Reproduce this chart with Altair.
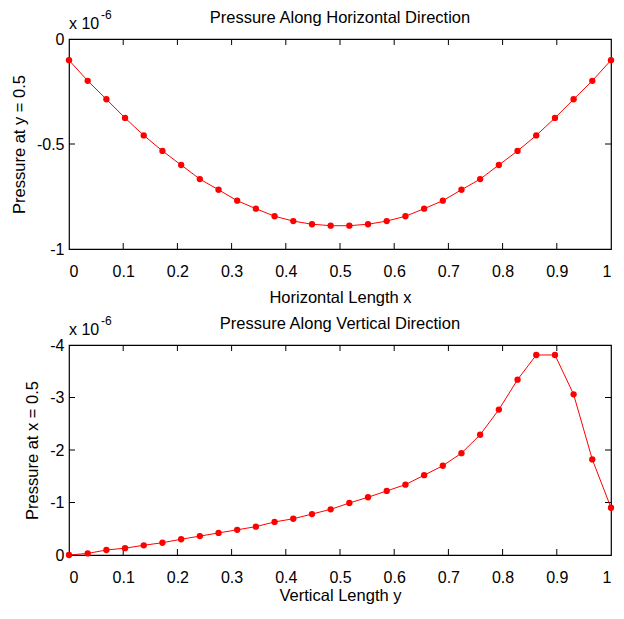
import altair as alt
import pandas as pd

# ---------------- data ----------------
x_pos = [0.0, 0.0345, 0.069, 0.1034, 0.1379, 0.1724, 0.2069, 0.2414, 0.2759, 0.3103,
         0.3448, 0.3793, 0.4138, 0.4483, 0.4828, 0.5172, 0.5517, 0.5862, 0.6207, 0.6552,
         0.6897, 0.7241, 0.7586, 0.7931, 0.8276, 0.8621, 0.8966, 0.931, 0.9655, 1.0]

p_horizontal = [-0.101, -0.199, -0.287, -0.376, -0.459, -0.533, -0.600, -0.667, -0.718, -0.770,
                -0.808, -0.844, -0.867, -0.882, -0.889, -0.889, -0.882, -0.867, -0.844, -0.808,
                -0.770, -0.718, -0.667, -0.600, -0.533, -0.459, -0.376, -0.287, -0.199, -0.101]

p_vertical = [0.0, -0.03, -0.095, -0.13, -0.185, -0.234, -0.30, -0.36, -0.42, -0.48,
              -0.54, -0.63, -0.69, -0.78, -0.87, -0.99, -1.10, -1.22, -1.34, -1.52,
              -1.70, -1.94, -2.29, -2.77, -3.34, -3.81, -3.81, -3.06, -1.82, -0.90]

x_ticks = [0, 0.1, 0.2, 0.3, 0.4, 0.5, 0.6, 0.7, 0.8, 0.9, 1]
x_inner_ticks = [0.1, 0.2, 0.3, 0.4, 0.5, 0.6, 0.7, 0.8, 0.9]
y_ticks_top = [0, -0.5, -1]
y_inner_top = [-0.5]
y_ticks_bottom = [0, -1, -2, -3, -4]
y_inner_bottom = [-1, -2, -3]

title_top = "Pressure Along Horizontal Direction"
title_bottom = "Pressure Along Vertical Direction"
xlabel_top = "Horizontal Length x"
xlabel_bottom = "Vertical Length y"
ylabel_top = "Pressure at y = 0.5"
ylabel_bottom = "Pressure at x = 0.5"
exp_base = "x 10"
exp_power = "-6"

W, H = 542, 210
FONT = "Liberation Sans"
RED = "#ff0000"
TICK = 6


def panel(yvals, ydomain, yreverse, yticks, yinner, xtitle, ytitle, title, xtitle_pad):
    df = pd.DataFrame({"x": x_pos, "p": yvals})
    xs = alt.Scale(domain=[0, 1], nice=False, zero=False)
    ys = alt.Scale(domain=ydomain, reverse=yreverse, nice=False, zero=False)
    xax = alt.Axis(values=x_ticks, labelExpr="'' + datum.value", ticks=False, domain=False,
                   grid=False, title=xtitle, labelPadding=14, titlePadding=xtitle_pad)
    yax = alt.Axis(values=yticks, labelExpr="'' + datum.value", ticks=False, domain=False,
                   grid=False, title=ytitle, labelPadding=5, titlePadding=9)
    base = alt.Chart(df)
    line = base.mark_line(color=RED, strokeWidth=1).encode(
        x=alt.X("x:Q", scale=xs, axis=xax), y=alt.Y("p:Q", scale=ys, axis=yax))
    pts = base.mark_circle(color=RED, size=40, opacity=1).encode(
        x=alt.X("x:Q", scale=xs, axis=xax), y=alt.Y("p:Q", scale=ys, axis=yax))

    xt = alt.Chart(pd.DataFrame({"x": x_inner_ticks}))
    tick_top = xt.mark_rule(color="black", strokeWidth=1).encode(
        x=alt.X("x:Q", scale=xs, axis=xax), y=alt.value(0), y2=alt.value(TICK))
    tick_bot = xt.mark_rule(color="black", strokeWidth=1).encode(
        x=alt.X("x:Q", scale=xs, axis=xax), y=alt.value(H), y2=alt.value(H - TICK))
    yt = alt.Chart(pd.DataFrame({"p": yinner}))
    tick_left = yt.mark_rule(color="black", strokeWidth=1).encode(
        y=alt.Y("p:Q", scale=ys, axis=yax), x=alt.value(0), x2=alt.value(TICK))
    tick_right = yt.mark_rule(color="black", strokeWidth=1).encode(
        y=alt.Y("p:Q", scale=ys, axis=yax), x=alt.value(W), x2=alt.value(W - TICK))

    one = alt.Chart(pd.DataFrame({"a": [0]}))
    ttl = one.mark_text(font=FONT, fontSize=16.5, color="black", align="center",
                        baseline="alphabetic", text=title).encode(
        x=alt.value(W / 2), y=alt.value(-16))
    e1 = one.mark_text(font=FONT, fontSize=16, color="black", align="left",
                       baseline="alphabetic", text=exp_base).encode(
        x=alt.value(0), y=alt.value(-10))
    e2 = one.mark_text(font=FONT, fontSize=12, color="black", align="left",
                       baseline="alphabetic", text=exp_power).encode(
        x=alt.value(32), y=alt.value(-20))

    return alt.layer(tick_top, tick_bot, tick_left, tick_right, line, pts, ttl, e1, e2).properties(
        width=W, height=H)


top = panel(p_horizontal, [-1, 0], False, y_ticks_top, y_inner_top,
            xlabel_top, ylabel_top, title_top, 10)
bottom = panel(p_vertical, [-4, 0], True, y_ticks_bottom, y_inner_bottom,
               xlabel_bottom, ylabel_bottom, title_bottom, 2)

chart = alt.vconcat(top, bottom, spacing=96, bounds="flush").properties(
    padding={"left": 2, "top": 0, "right": 0, "bottom": 0}
).configure(background="white").configure_view(
    stroke="black", strokeWidth=1.2
).configure_axis(
    labelFont=FONT, labelFontSize=16, labelColor="black",
    titleFont=FONT, titleFontSize=16.5, titleFontWeight="normal", titleColor="black"
)

chart.save("out.html", embed_options={"renderer": "svg", "actions": False})
